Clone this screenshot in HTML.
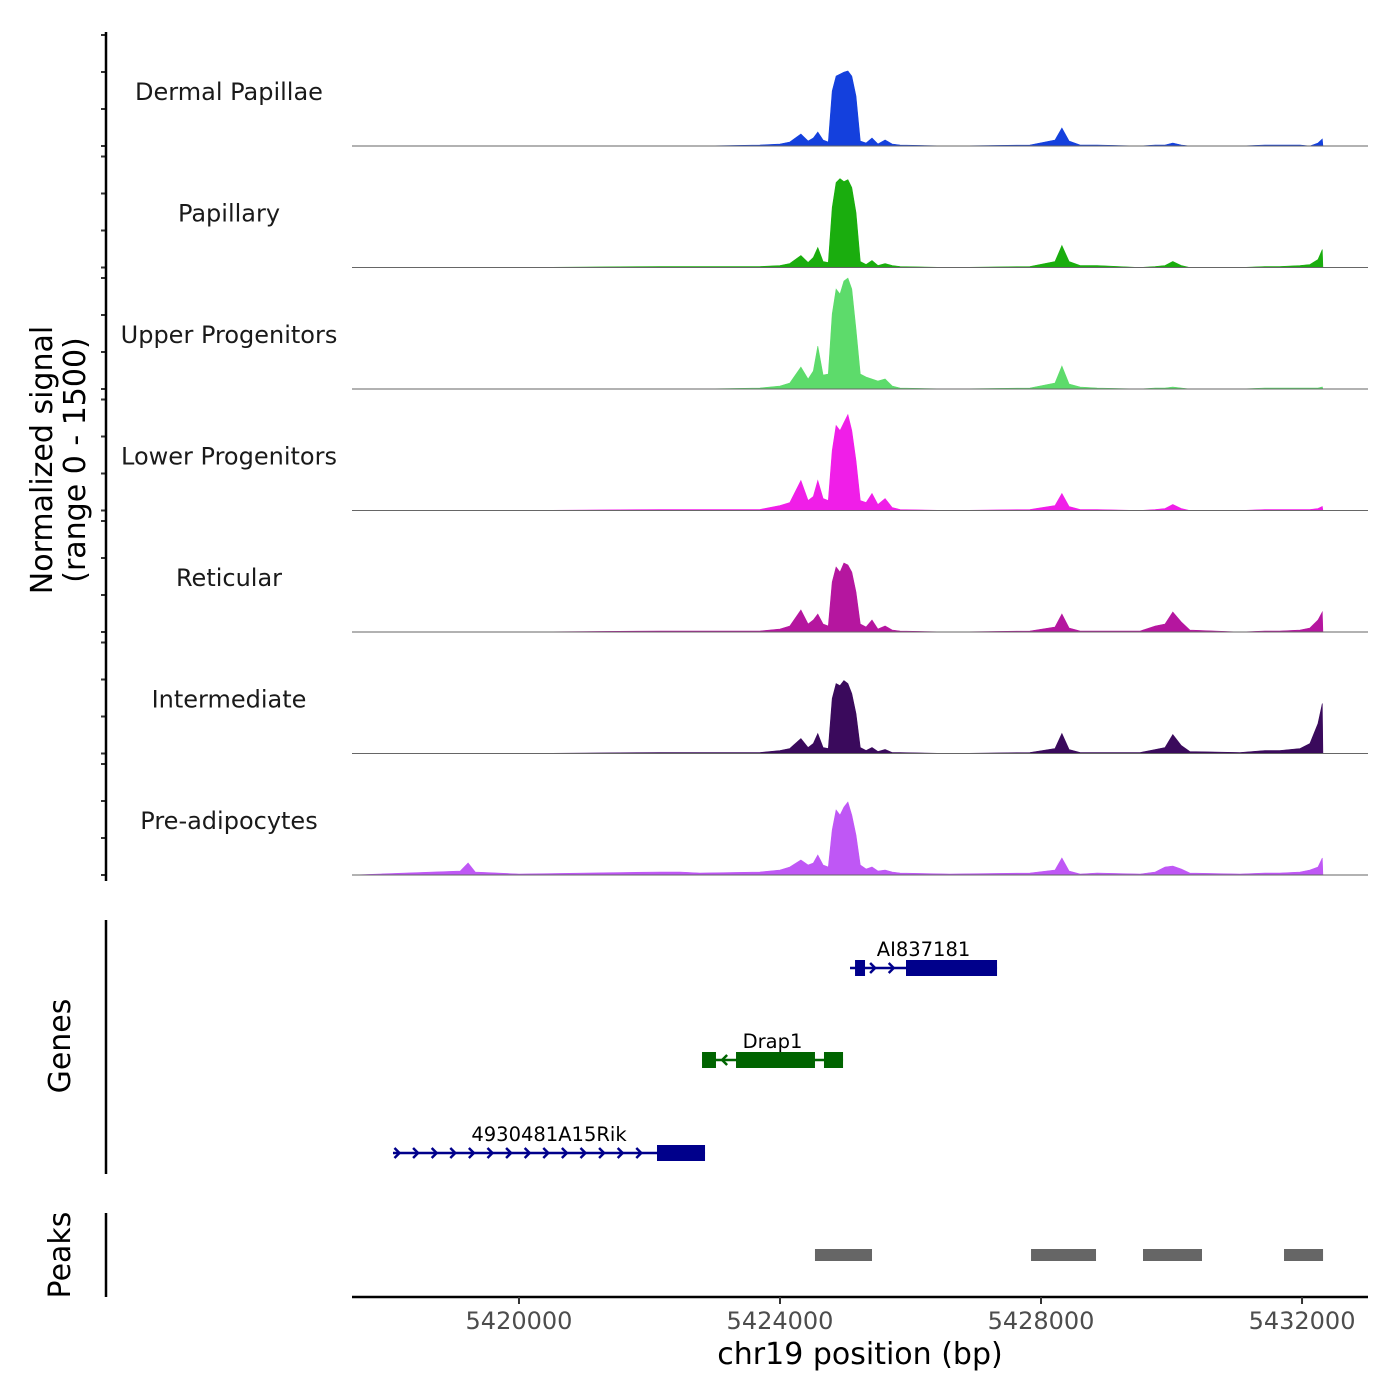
<!DOCTYPE html>
<html><head><meta charset="utf-8">
<style>
html,body{margin:0;padding:0;background:#fff;}
svg{display:block;font-family:"DejaVu Sans","Liberation Sans",sans-serif;}
</style></head>
<body>
<svg id="chart" width="1400" height="1400" viewBox="0 0 1400 1400" xmlns="http://www.w3.org/2000/svg"></svg>
<script>
const positions=[5417450,5419100,5419220,5419330,5420000,5422160,5422470,5422770,5423690,5424000,5424150,5424320,5424430,5424510,5424580,5424660,5424740,5424800,5424860,5424920,5424980,5425040,5425100,5425165,5425230,5425320,5425410,5425500,5425610,5425720,5425840,5426600,5427830,5428215,5428320,5428430,5428600,5428860,5429520,5429750,5429900,5430020,5430150,5430280,5431050,5431430,5431660,5431970,5432120,5432245,5432310,5432320];
const trackNames=["Dermal Papillae","Papillary","Upper Progenitors","Lower Progenitors","Reticular","Intermediate","Pre-adipocytes"];
const trackColors=["#1440dd","#1aad0e","#5ddb6b","#f01ee8","#b5169f","#3a0a5c","#bf57f5"];
const dermalPapillae=[0,0,0,0,0,0,0,0,14,27,54,162,68,108,189,81,54,743,945,972,999,1013,945,675,68,41,108,27,81,27,14,0,14,81,243,68,14,14,0,14,14,41,14,0,0,14,14,14,0,41,95,0];
const papillary=[0,0,0,0,0,14,14,14,14,27,54,162,68,135,270,81,68,810,1148,1202,1161,1188,1080,743,81,41,95,27,54,27,14,0,14,81,297,81,27,27,0,14,27,81,27,0,0,14,14,27,41,108,243,0];
const upperProgenitors=[0,0,0,0,0,0,0,0,14,41,81,297,135,243,581,189,203,1013,1350,1283,1458,1499,1350,810,203,162,135,108,135,41,14,0,14,81,311,68,27,14,0,14,14,27,14,0,0,14,14,14,14,14,27,0];
const lowerProgenitors=[0,0,0,0,0,14,14,14,14,68,108,405,135,189,405,162,135,810,1148,1080,1188,1296,1080,675,135,108,230,81,162,41,14,0,14,68,230,54,14,14,0,14,27,81,27,0,0,14,14,14,14,27,54,0];
const reticular=[0,0,0,0,0,14,14,14,14,41,81,297,108,162,243,108,81,675,878,810,932,905,810,540,108,68,162,41,81,27,14,0,14,68,243,54,14,14,14,81,108,270,135,27,0,14,14,27,54,162,270,0];
const intermediate=[0,0,0,0,0,14,14,14,14,41,68,203,81,135,270,81,68,743,945,918,986,945,810,540,81,41,81,27,54,14,14,0,14,68,270,54,14,14,14,54,81,257,108,27,14,41,41,68,135,405,675,0];
const preAdipocytes=[0,54,162,41,14,41,41,27,41,68,108,203,135,162,270,135,108,608,878,810,918,986,810,540,135,81,108,54,68,41,27,14,27,68,230,54,14,27,14,41,108,122,81,27,14,27,27,41,68,108,230,0];
const trackValues=[dermalPapillae,papillary,upperProgenitors,lowerProgenitors,reticular,intermediate,preAdipocytes];
const xTicks=[5420000,5424000,5428000,5432000];
const xTickLabels=["5420000","5424000","5428000","5432000"];
const geneNames=["AI837181","Drap1","4930481A15Rik"];
const geneStarts=[5425073,5422805,5418069];
const geneEnds=[5427326,5424966,5422851];
const geneStrands=["+","-","+"];
const geneExons=[[[5425150,5425303],[5425931,5427326]],[[5422805,5423019],[5423326,5424536],[5424674,5424966]],[[5422115,5422851]]];
const peakStarts=[5424536,5427847,5429563,5431724];
const peakEnds=[5425410,5428843,5430467,5432322];

const NS="http://www.w3.org/2000/svg";
const svg=document.getElementById("chart");
const X0=352,X1=1368,BP0=5417441,BP1=5433011;
function xs(bp){return X0+(bp-BP0)/(BP1-BP0)*(X1-X0);}
const TOP0=35,TRACK_H=121.5,SIG_H=111;
function ys(i,v){return TOP0+i*TRACK_H+SIG_H-Math.min(v,1500)/1500*SIG_H;}
function el(tag,attrs,parent){const e=document.createElementNS(NS,tag);for(const k in attrs)e.setAttribute(k,attrs[k]);(parent||svg).appendChild(e);return e;}
function txt(s,attrs,parent){const e=el("text",attrs,parent);e.textContent=s;return e;}

for(let i=0;i<trackValues.length;i++){
  const g=el("g",{});
  
  
  const base=ys(i,0);
  let d="M"+xs(positions[0]).toFixed(1)+","+base;
  for(let j=0;j<positions.length;j++) d+=" L"+xs(positions[j]).toFixed(1)+","+ys(i,trackValues[i][j]).toFixed(1);
  d+=" L"+xs(positions[positions.length-1]).toFixed(1)+","+base+" Z";
  const area=el("path",{d:d,fill:trackColors[i],stroke:trackColors[i],"stroke-width":"0.6"},g);
  
  
  const bl=el("line",{x1:X0,x2:X1,y1:base,y2:base,stroke:"#666","stroke-width":"1"},g);
  
  
  const lab=txt(trackNames[i],{x:229,y:TOP0+i*TRACK_H+65,"text-anchor":"middle","font-size":"24",fill:"#1a1a1a"},g);
  
  
  for(let k=0;k<4;k++){
    const ty=TOP0+i*TRACK_H+k*SIG_H/3;
    const t=el("line",{x1:101,x2:106,y1:ty,y2:ty,stroke:"#333","stroke-width":"2"},g);
    
    
  }
}
const yAxis=el("line",{x1:106,x2:106,y1:32,y2:881,stroke:"#000","stroke-width":"2.5"});


const yt=el("text",{transform:"translate(52,460) rotate(-90)","text-anchor":"middle","font-size":"30",fill:"#000"});


const t1=el("tspan",{x:0,y:0},yt);t1.textContent="Normalized signal";
const t2=el("tspan",{x:0,y:33},yt);t2.textContent="(range 0 - 1500)";

const gAxis=el("line",{x1:106,x2:106,y1:920,y2:1174,stroke:"#000","stroke-width":"2.5"});


const gt=txt("Genes",{transform:"translate(70,1046) rotate(-90)","text-anchor":"middle","font-size":"30",fill:"#000"});


const geneY=[968,1060,1153];
const geneColors=["#00008b","#006400","#00008b"];
for(let i=0;i<geneNames.length;i++){
  const g=el("g",{});
  
  
  const y=geneY[i],c=geneColors[i];
  const x1=xs(geneStarts[i]),x2=xs(geneEnds[i]);
  el("line",{x1:x1,x2:x2,y1:y,y2:y,stroke:c,"stroke-width":"2.5"},g);
  const step=18.6;
  for(let ax=x1+4;ax<x2-4;ax+=step){
    let inEx=false;
    for(const e of geneExons[i]){if(ax>xs(e[0])-3&&ax<xs(e[1])+3)inEx=true;}
    if(inEx)continue;
    const dx=geneStrands[i]=="+"?5:-5;
    el("polyline",{points:(ax-dx/2)+","+(y-5)+" "+(ax+dx/2)+","+y+" "+(ax-dx/2)+","+(y+5),fill:"none",stroke:c,"stroke-width":"2.5"},g);
  }
  for(const e of geneExons[i]){
    const r=el("rect",{x:xs(e[0]),y:y-8,width:xs(e[1])-xs(e[0]),height:16,fill:c},g);
    
    
  }
  const lab=txt(geneNames[i],{x:(x1+x2)/2,y:y-12,"text-anchor":"middle","font-size":"19.5",fill:"#000"},g);
  
  
}

const pAxis=el("line",{x1:106,x2:106,y1:1213,y2:1297,stroke:"#000","stroke-width":"2.5"});


const pt=txt("Peaks",{transform:"translate(70,1255) rotate(-90)","text-anchor":"middle","font-size":"30",fill:"#000"});


for(let i=0;i<peakStarts.length;i++){
  const r=el("rect",{x:xs(peakStarts[i]),y:1249,width:xs(peakEnds[i])-xs(peakStarts[i]),height:12,fill:"#666"});
  
  
}

const xa=el("line",{x1:X0,x2:X1,y1:1297,y2:1297,stroke:"#000","stroke-width":"2.5"});


for(let i=0;i<xTicks.length;i++){
  const x=xs(xTicks[i]);
  const t=el("line",{x1:x,x2:x,y1:1297,y2:1304,stroke:"#333","stroke-width":"2"});
  
  
  const l=txt(xTickLabels[i],{x:x,y:1329,"text-anchor":"middle","font-size":"24",fill:"#4d4d4d"});
  
  
}
const xt=txt("chr19 position (bp)",{x:860,y:1364,"text-anchor":"middle","font-size":"30",fill:"#000"});


</script>
</body></html>
